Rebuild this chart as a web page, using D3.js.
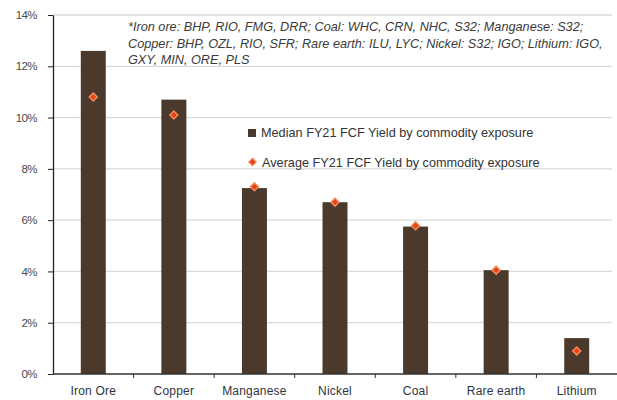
<!DOCTYPE html>
<html>
<head>
<meta charset="utf-8">
<script src="https://cdn.jsdelivr.net/npm/d3@7"></script>
<style>
  html, body { margin: 0; padding: 0; background: #fff; }
  svg { display: block; font-family: "Liberation Sans", Arial, sans-serif; }
</style>
</head>
<body>
<svg id="chart" width="617" height="400"></svg>
<script>
// FY21 free cash flow yield by commodity exposure
const categories = ["Iron Ore", "Copper", "Manganese", "Nickel", "Coal", "Rare earth", "Lithium"];
const medianYield = [12.6, 10.7, 7.25, 6.7, 5.75, 4.05, 1.4];
const averageYield = [10.8, 10.1, 7.3, 6.7, 5.78, 4.05, 0.9];
const yTicks = [0, 2, 4, 6, 8, 10, 12, 14];
const legendLabels = [
  "Median FY21 FCF Yield by commodity exposure",
  "Average FY21 FCF Yield by commodity exposure"
];
const noteLines = [
  "*Iron ore: BHP, RIO, FMG, DRR; Coal: WHC, CRN, NHC, S32; Manganese: S32;",
  "Copper: BHP, OZL, RIO, SFR; Rare earth: ILU, LYC; Nickel: S32; IGO; Lithium: IGO,",
  "GXY, MIN, ORE, PLS"
];

const svg = d3.select("#chart");
const margin = { left: 53, right: 0, top: 15, bottom: 26 };
const W = 617, H = 400;

const x = d3.scaleBand()
  .domain(categories)
  .range([margin.left, W - margin.right])
  .paddingInner(0.69)
  .paddingOuter(0.345);

const y = d3.scaleLinear()
  .domain([0, 14])
  .range([H - margin.bottom, margin.top]);

// gridlines
svg.append("g")
  .selectAll("line")
  .data(yTicks.filter(d => d > 0))
  .join("line")
  .attr("x1", margin.left)
  .attr("x2", W - 5)
  .attr("y1", d => y(d))
  .attr("y2", d => y(d))
  .attr("stroke", "#dadada")
  .attr("stroke-width", 1.3);

// bars (median)
svg.append("g")
  .selectAll("rect")
  .data(categories)
  .join("rect")
  .attr("x", d => x(d))
  .attr("width", x.bandwidth())
  .attr("y", (d, i) => y(medianYield[i]))
  .attr("height", (d, i) => y(0) - y(medianYield[i]))
  .attr("fill", "#4b3a2c");

// y axis
const yAxis = svg.append("g")
  .attr("transform", `translate(${margin.left},0)`)
  .call(d3.axisLeft(y).tickValues(yTicks).tickFormat(d => d + "%").tickSize(5).tickSizeOuter(0));
yAxis.select(".domain").attr("stroke", "#222").attr("stroke-width", 1.3);
yAxis.selectAll(".tick line").attr("stroke", "#222");
yAxis.selectAll(".tick text")
  .attr("x", -16)
  .attr("fill", "#4a4a4a")
  .style("font-size", "11.5px")
  .style("letter-spacing", "-0.6px");

// x axis with ticks at band boundaries
const xAxisG = svg.append("g").attr("transform", `translate(0,${y(0)})`);
xAxisG.append("line")
  .attr("x1", margin.left).attr("x2", W)
  .attr("stroke", "#333").attr("stroke-width", 1.3);
const step = x.step();
const boundaries = d3.range(1, categories.length).map(i => margin.left + i * step);
xAxisG.selectAll("line.tk")
  .data(boundaries)
  .join("line")
  .attr("class", "tk")
  .attr("x1", d => d).attr("x2", d => d)
  .attr("y1", 0).attr("y2", 4)
  .attr("stroke", "#333");
xAxisG.selectAll("text")
  .data(categories)
  .join("text")
  .attr("x", d => x(d) + x.bandwidth() / 2)
  .attr("y", 21)
  .attr("text-anchor", "middle")
  .attr("fill", "#2f3340")
  .style("font-size", "12px")
  .style("letter-spacing", "0.2px")
  .text(d => d);

// diamonds (average)
const diamond = d3.symbol().type(d3.symbolDiamond2).size(40);
svg.append("g")
  .selectAll("path")
  .data(categories)
  .join("path")
  .attr("transform", (d, i) => `translate(${x(d) + x.bandwidth() / 2},${y(averageYield[i])})`)
  .attr("d", diamond)
  .attr("fill", "#e8401c")
  .attr("stroke", "#f58a55")
  .attr("stroke-width", 1.5);

// legend
const legend = svg.append("g");
legend.append("rect")
  .attr("x", 248).attr("y", 129).attr("width", 8).attr("height", 8)
  .attr("fill", "#4b3a2c");
legend.append("path")
  .attr("transform", "translate(252.5,162)")
  .attr("d", d3.symbol().type(d3.symbolDiamond2).size(36)())
  .attr("fill", "#e8401c")
  .attr("stroke", "#f58a55")
  .attr("stroke-width", 1.2);
legend.selectAll("text")
  .data(legendLabels)
  .join("text")
  .attr("x", (d, i) => 261 + i)
  .attr("y", (d, i) => 137 + i * 30)
  .attr("fill", "#333")
  .style("font-size", "12.7px")
  .text(d => d);

// footnote listing the companies in each group
svg.append("g")
  .selectAll("text")
  .data(noteLines)
  .join("text")
  .attr("x", 128)
  .attr("y", (d, i) => 31 + i * 16.5)
  .attr("fill", "#3a3a3a")
  .style("font-size", "12.7px")
  .style("font-style", "italic")
  .text(d => d);
</script>
</body>
</html>
